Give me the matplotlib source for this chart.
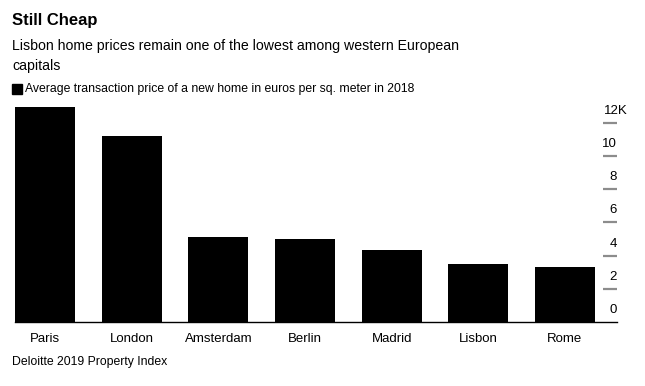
import matplotlib
matplotlib.use('Agg')
import matplotlib.pyplot as plt
from matplotlib.patches import Rectangle
import matplotlib.transforms as mtransforms

plt.rcParams['font.family'] = ['Liberation Sans', 'DejaVu Sans']

cities = ['Paris', 'London', 'Amsterdam', 'Berlin', 'Madrid', 'Lisbon', 'Rome']
prices_k = [12.93, 11.19, 5.14, 4.98, 4.32, 3.48, 3.30]
ytick_vals = [0, 2, 4, 6, 8, 10, 12]

W, H = 645, 386
fig = plt.figure(figsize=(W / 100, H / 100), dpi=100)

# axes placed in pixel terms: baseline y=322, left 15, right 617
x0, x1 = 15, 617
y_base, y_top = 322, 98
ax = fig.add_axes([x0 / W, (H - y_base) / H, (x1 - x0) / W, (y_base - y_top) / H])

pos = list(range(len(cities)))
ax.bar(pos, prices_k, width=0.692, color='black', zorder=2)
ax.set_xlim(-0.346, 6.60)
ax.set_ylim(0, 13.5)

for s in ['top', 'right', 'left']:
  ax.spines[s].set_visible(False)
ax.spines['bottom'].set_linewidth(1.0)
ax.spines['bottom'].set_color('black')

ax.set_xticks(pos)
ax.set_xticklabels(cities, fontsize=9.5, color='black')
ax.tick_params(axis='x', length=0, pad=8)
ax.set_yticks([])

# short gray gridline stubs with labels above, in the right column
trans = mtransforms.blended_transform_factory(ax.transAxes, ax.transData)
for v in ytick_vals[1:]:
  ax.plot([0.977, 1.0], [v, v], color='#8c8c8c', lw=1.6, transform=trans,
          solid_capstyle='butt', clip_on=False)
for v in ytick_vals:
  if v == 12:
    ax.text(1.017, v + 0.72, '12K', transform=trans, ha='right', va='center', fontsize=9.5)
  else:
    ax.text(0.9995, v + 0.72, str(v), transform=trans, ha='right', va='center', fontsize=9.5)

fig.text(12 / W, 1 - 20 / H, 'Still Cheap', fontsize=12, fontweight='bold', va='center', ha='left')
fig.text(12 / W, 1 - 46 / H, 'Lisbon home prices remain one of the lowest among western European',
         fontsize=10.2, va='center', ha='left')
fig.text(12 / W, 1 - 66 / H, 'capitals', fontsize=10.2, va='center', ha='left')

fig.patches.append(Rectangle((12 / W, 1 - 94 / H), 10 / W, 10 / H, transform=fig.transFigure,
                             color='black'))
fig.text(25 / W, 1 - 89 / H, 'Average transaction price of a new home in euros per sq. meter in 2018',
         fontsize=8.8, va='center', ha='left')

fig.text(12 / W, 1 - 362 / H, 'Deloitte 2019 Property Index', fontsize=8.8, va='center', ha='left')

fig.savefig('out.png', dpi=100)
